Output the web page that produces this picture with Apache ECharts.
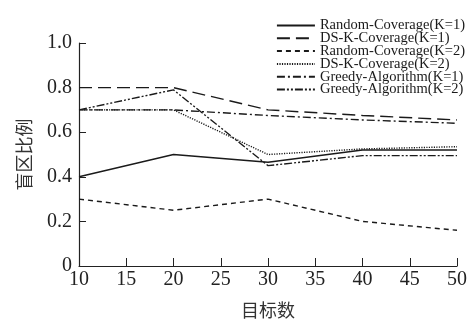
<!DOCTYPE html>
<html>
<head>
<meta charset="utf-8">
<script src="https://cdn.jsdelivr.net/npm/echarts@6/dist/echarts.min.js"></script>
<style>
  html, body { margin: 0; padding: 0; background: #fff; }
  #chart { width: 473px; height: 324px; }
</style>
</head>
<body>
<div id="chart"></div>
<script>
// 目标数
const targets = [10, 20, 30, 40, 50];
// 盲区比例
const randomK1 = [0.40, 0.50, 0.465, 0.52, 0.52];
const dskK1 = [0.80, 0.80, 0.70, 0.675, 0.655];
const randomK2 = [0.30, 0.25, 0.30, 0.20, 0.16];
const dskK2 = [0.70, 0.70, 0.50, 0.525, 0.535];
const greedyK1 = [0.70, 0.70, 0.675, 0.655, 0.64];
const greedyK2 = [0.70, 0.79, 0.45, 0.495, 0.495];

const names = [
  "Random-Coverage(K=1)",
  "DS-K-Coverage(K=1)",
  "Random-Coverage(K=2)",
  "DS-K-Coverage(K=2)",
  "Greedy-Algorithm(K=1)",
  "Greedy-Algorithm(K=2)"
];
const values = [randomK1, dskK1, randomK2, dskK2, greedyK1, greedyK2];
const dashes = [
  "solid",
  [13, 6],
  [5, 4],
  [1.2, 1.3],
  [8, 3, 2, 3],
  [8, 2, 2, 2, 2, 2]
];

const serif = "Liberation Serif";
const chart = echarts.init(document.getElementById("chart"));

chart.setOption({
  animation: false,
  grid: { left: 79, right: 16, top: 43, bottom: 55 },
  legend: {
    orient: "vertical",
    right: 3,
    top: 13,
    itemWidth: 38,
    itemHeight: 8,
    itemGap: -2.2,
    itemStyle: { opacity: 0 },
    data: names,
    textStyle: { fontFamily: serif, fontSize: 14.5, color: "#1a1a1a" }
  },
  xAxis: {
    type: "value",
    min: 10,
    max: 50,
    interval: 5,
    name: "目标数",
    nameLocation: "middle",
    nameGap: 35,
    nameTextStyle: { fontFamily: "Noto Sans CJK SC", fontSize: 18, color: "#333" },
    axisLine: { lineStyle: { color: "#222", width: 1.2 } },
    axisTick: { inside: true, length: 8, lineStyle: { color: "#222" } },
    axisLabel: { fontFamily: serif, fontSize: 20, color: "#222", margin: 4 },
    splitLine: { show: false }
  },
  yAxis: {
    type: "value",
    min: 0,
    max: 1,
    interval: 0.2,
    name: "盲区比例",
    nameLocation: "middle",
    nameGap: 46,
    nameTextStyle: { fontFamily: "Noto Sans CJK SC", fontSize: 18, color: "#333" },
    axisLine: { show: true, lineStyle: { color: "#222", width: 1.2 } },
    axisTick: { show: true, inside: true, length: 7, lineStyle: { color: "#222" } },
    axisLabel: {
      fontFamily: serif,
      fontSize: 20,
      color: "#222",
      margin: 7,
      formatter: (v) => (v === 0 ? "0" : v.toFixed(1))
    },
    splitLine: { show: false }
  },
  series: names.map((name, i) => ({
    name,
    type: "line",
    symbol: "none",
    data: targets.map((t, j) => [t, values[i][j]]),
    lineStyle: { color: "#1a1a1a", width: 1.4, type: dashes[i] },
    itemStyle: { color: "#1a1a1a" }
  }))
});
</script>
</body>
</html>
